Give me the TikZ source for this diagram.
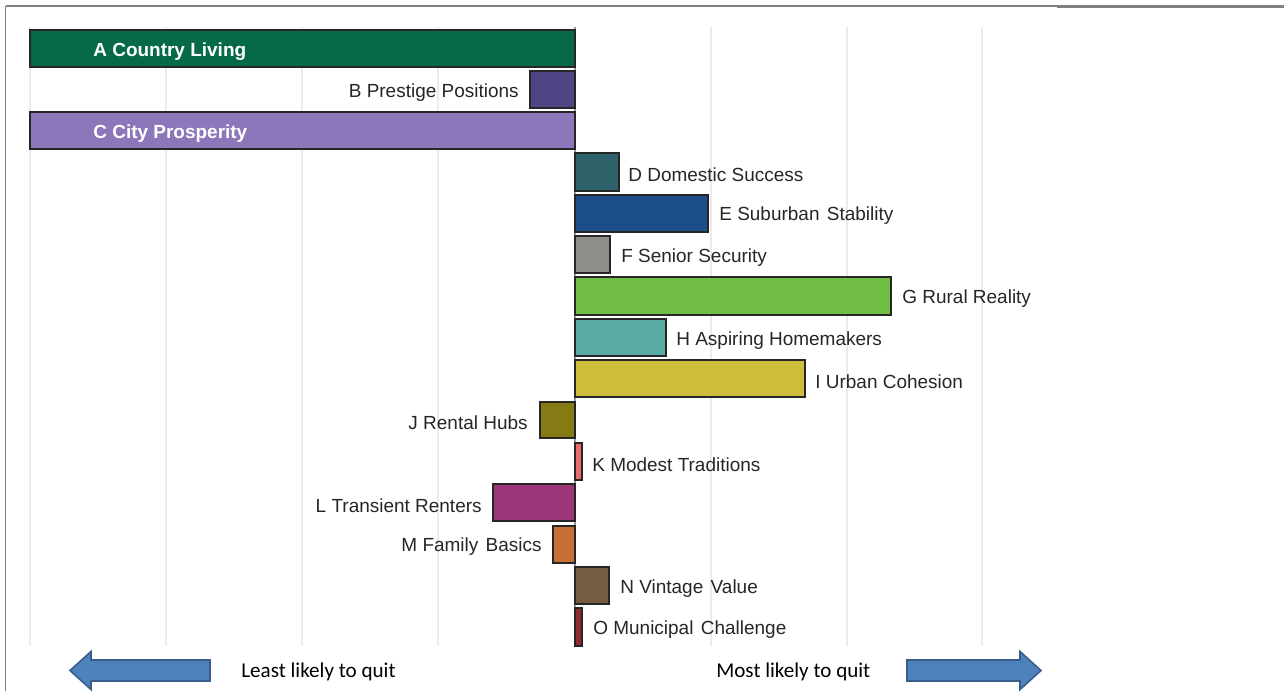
\documentclass[tikz,border=0pt]{standalone}
\usepackage{fontspec}
\setmainfont{Liberation Sans}
\newfontfamily\calibfont{Carlito}
\usepackage{tikz}

\definecolor{segA}{HTML}{066A46}
\definecolor{segB}{HTML}{4E4584}
\definecolor{segC}{HTML}{8B77B9}
\definecolor{segD}{HTML}{2F636B}
\definecolor{segE}{HTML}{1D4E8C}
\definecolor{segF}{HTML}{8F8D87}
\definecolor{segG}{HTML}{70BF44}
\definecolor{segH}{HTML}{5AADA4}
\definecolor{segI}{HTML}{CFBC3A}
\definecolor{segJ}{HTML}{857A14}
\definecolor{segK}{HTML}{E86A6A}
\definecolor{segL}{HTML}{9A3679}
\definecolor{segM}{HTML}{C86F35}
\definecolor{segN}{HTML}{755A44}
\definecolor{segO}{HTML}{8F2B2E}
\definecolor{arrowfill}{HTML}{4F81BD}
\definecolor{arrowline}{HTML}{385D8A}

\newcommand{\gap}{\hspace{1.2pt}}

\tikzset{
  bar/.style={draw=black!85, line width=0.85pt},
  lbl/.style={inner sep=0pt, yshift=-0.06cm, font=\fontsize{10.8}{13}\selectfont, text=black!85},
  inlbl/.style={inner sep=0pt, yshift=-0.06cm, font=\fontsize{10.8}{13}\selectfont\bfseries, text=white},
  grid line/.style={draw=black!8, line width=0.9pt},
  bigarrow/.style={fill=arrowfill, draw=arrowline, line width=0.9pt},
  arrowtext/.style={inner sep=0pt, yshift=-0.04cm, font=\calibfont\fontsize{12}{14}\selectfont}
}

\begin{document}
\begin{tikzpicture}[x=0.02cm, y=-0.02cm]
    \useasboundingbox (0,0) rectangle (1284,691);

    % Frame
    \draw[black!50, line width=0.8pt] (5.5,6) -- (1057,6);
    \draw[black!50, line width=1.7pt] (1057,6.5) -- (1284,6.5);
    \draw[black!50, line width=1.1pt] (5.5,6) -- (5.5,691);

    % Grid
    \foreach \gx in {30,166,302,438,711,847,982}
        \draw[grid line] (\gx,27) -- (\gx,646);
    \draw[black!40, line width=0.9pt] (575,27) -- (575,646);

    % Bars above the axis
    \draw[bar, fill=segA] (30,30) rectangle (575,67);
    \node[inlbl, anchor=west] (lblA) at (93,49) {A Country Living};
    \draw[bar, fill=segB] (530,71) rectangle (575,108);
    \node[lbl, anchor=east] (lblB) at (519,90) {B Prestige Positions};
    \draw[bar, fill=segC] (30,112) rectangle (575,149);
    \node[inlbl, anchor=west] (lblC) at (93,131) {C City Prosperity};
    \draw[bar, fill=segD] (575,153) rectangle (619,191);
    \node[lbl, anchor=west] (lblD) at (628,172) {D Domestic Success};
    \draw[bar, fill=segE] (575,195) rectangle (708,232);
    \node[lbl, anchor=west] (lblE) at (719,213) {E Suburban\gap{} Stability};
    \draw[bar, fill=segF] (575,236) rectangle (610,273);
    \node[lbl, anchor=west] (lblF) at (621,255) {F Senior Security};
    \draw[bar, fill=segG] (575,277) rectangle (891,315);
    \node[lbl, anchor=west] (lblG) at (902,296) {G Rural Reality};
    \draw[bar, fill=segH] (575,319) rectangle (666,356);
    \node[lbl, anchor=west] (lblH) at (676,338) {H Aspiring Homemakers};
    \draw[bar, fill=segI] (575,360) rectangle (805,397);
    \node[lbl, anchor=west] (lblI) at (815,379) {I Urban Cohesion};

    % Bars below
    \draw[bar, fill=segJ] (540,402) rectangle (575,438);
    \node[lbl, anchor=east] (lblJ) at (528,420) {J Rental Hubs};
    \draw[bar, fill=segK] (575,443) rectangle (582,480);
    \node[lbl, anchor=west] (lblK) at (592,462) {K Modest Traditions};
    \draw[bar, fill=segL] (493,484) rectangle (575,521);
    \node[lbl, anchor=east] (lblL) at (482,503) {L Transient Renters};
    \draw[bar, fill=segM] (553,526) rectangle (575,563);
    \node[lbl, anchor=east] (lblM) at (542,544) {M Family\gap{} Basics};
    \draw[bar, fill=segN] (575,567) rectangle (609,604);
    \node[lbl, anchor=west] (lblN) at (620,586) {N Vintage\gap{} Value};
    \draw[bar, fill=segO] (575,608) rectangle (582,646);
    \node[lbl, anchor=west] (lblO) at (593,627) {O Municipal\gap{} Challenge};

    % Direction arrows
    \draw[bigarrow] (70,670.5) -- (91,651.5) -- (91,660) -- (210,660) -- (210,681)
        -- (91,681) -- (91,689.5) -- cycle;
    \node[arrowtext, anchor=west] (least) at (241,670) {Least likely to quit};
    \draw[bigarrow] (1041,670.5) -- (1020,651.5) -- (1020,660) -- (907,660) -- (907,681)
        -- (1020,681) -- (1020,689.5) -- cycle;
    \node[arrowtext, anchor=west] (most) at (716,670) {Most likely to quit};
\end{tikzpicture}
\end{document}
